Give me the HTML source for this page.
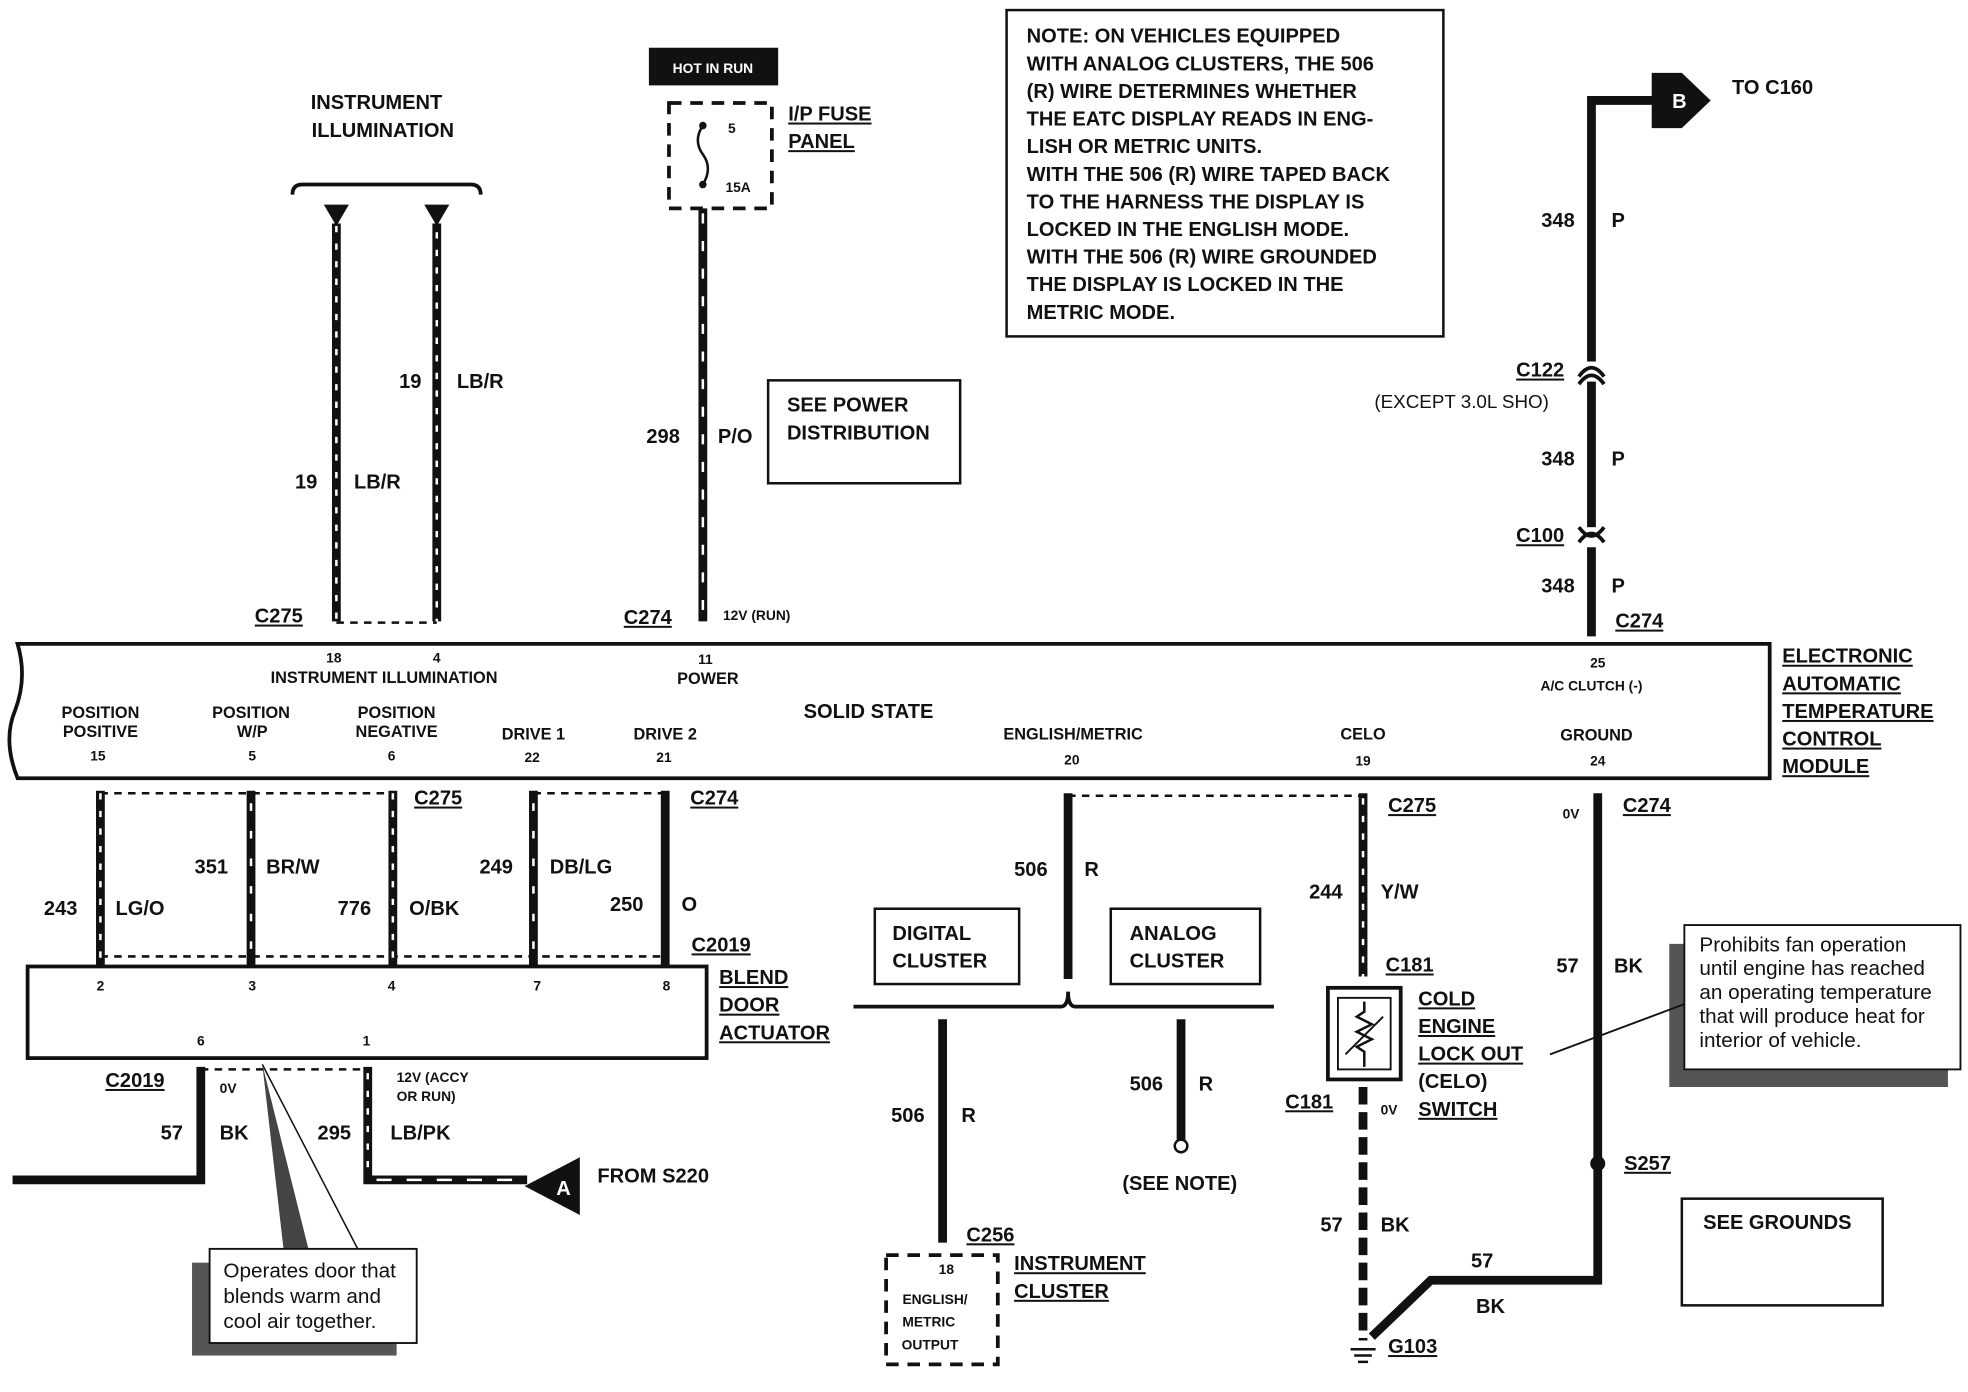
<!DOCTYPE html>
<html><head><meta charset="utf-8"><style>
html,body{margin:0;padding:0;background:#fff}
svg{display:block}
text{font-family:"Liberation Sans",sans-serif;font-weight:bold;fill:#111}
.s{font-size:16px}.m{font-size:13px}.t{font-size:11px}
.u{text-decoration:underline}
.w{stroke:#111;stroke-width:7;fill:none}
.st{stroke:#fff;stroke-width:2;stroke-dasharray:5 9;fill:none}
.d{stroke:#111;stroke-width:2;stroke-dasharray:6 5;fill:none}
.n{font-family:"Liberation Sans",sans-serif;font-weight:normal;font-size:16.5px}
</style></head><body>
<svg width="1968" height="1392" viewBox="0 0 1568 1109" xmlns="http://www.w3.org/2000/svg">
<rect width="1568" height="1109" fill="#fff"/>
<!-- Instrument illumination -->
<text class="s" x="300" y="87" text-anchor="middle">INSTRUMENT</text>
<text class="s" x="305" y="109" text-anchor="middle">ILLUMINATION</text>
<path d="M233 155 Q233 147 241 147 L375 147 Q383 147 383 155" stroke="#111" stroke-width="3" fill="none"/>
<polygon points="258,163 278,163 268,180" fill="#111"/><polygon points="338,163 358,163 348,180" fill="#111"/>
<line class="w" x1="268" y1="178" x2="268" y2="495"/><line class="st" x1="268" y1="180" x2="268" y2="495"/>
<line class="w" x1="348" y1="178" x2="348" y2="495"/><line class="st" x1="348" y1="185" x2="348" y2="495"/>
<line class="d" x1="268" y1="496" x2="348" y2="496"/>
<text class="s" x="235" y="389">19</text><text class="s" x="282" y="389">LB/R</text>
<text class="s" x="318" y="309">19</text><text class="s" x="364" y="309">LB/R</text>
<text class="s u" x="203" y="496">C275</text>
<!-- Hot in run -->
<rect x="517" y="38" width="103" height="30" fill="#111"/>
<text class="t" x="568" y="58" text-anchor="middle" style="fill:#fff">HOT IN RUN</text>
<rect x="533" y="82" width="82" height="84" fill="none" stroke="#111" stroke-width="3" stroke-dasharray="10 7"/>
<circle cx="560" cy="100" r="3" fill="#111"/><circle cx="560" cy="147" r="3" fill="#111"/>
<path d="M560 100 Q552 112 560 123 Q568 134 560 147" stroke="#111" stroke-width="2" fill="none"/>
<text class="t" x="580" y="106">5</text><text class="t" x="578" y="153">15A</text>
<text class="s u" x="628" y="96">I/P FUSE</text><text class="s u" x="628" y="118">PANEL</text>
<line class="w" x1="560" y1="166" x2="560" y2="495"/><line class="st" x1="560" y1="170" x2="560" y2="495" style="stroke-dasharray:8 14"/>
<text class="s" x="515" y="353">298</text><text class="s" x="572" y="353">P/O</text>
<text class="s u" x="497" y="497">C274</text><text class="t" x="576" y="494">12V (RUN)</text>
<rect x="612" y="303" width="153" height="82" fill="none" stroke="#111" stroke-width="2"/>
<text class="s" x="627" y="328">SEE POWER</text><text class="s" x="627" y="350">DISTRIBUTION</text>
<!-- Note -->
<rect x="802" y="8" width="348" height="260" fill="none" stroke="#111" stroke-width="2"/>
<g class="s"><text class="s" x="818" y="34">NOTE: ON VEHICLES EQUIPPED</text>
<text class="s" x="818" y="56">WITH ANALOG CLUSTERS, THE 506</text>
<text class="s" x="818" y="78">(R) WIRE DETERMINES WHETHER</text>
<text class="s" x="818" y="100">THE EATC DISPLAY READS IN ENG-</text>
<text class="s" x="818" y="122">LISH OR METRIC UNITS.</text>
<text class="s" x="818" y="144">WITH THE 506 (R) WIRE TAPED BACK</text>
<text class="s" x="818" y="166">TO THE HARNESS THE DISPLAY IS</text>
<text class="s" x="818" y="188">LOCKED IN THE ENGLISH MODE.</text>
<text class="s" x="818" y="210">WITH THE 506 (R) WIRE GROUNDED</text>
<text class="s" x="818" y="232">THE DISPLAY IS LOCKED IN THE</text>
<text class="s" x="818" y="254">METRIC MODE.</text></g>
<!-- Right top wire -->
<path class="w" d="M1268 507 L1268 80 L1320 80"/>
<polygon points="1316,58 1340,58 1363,80 1340,102 1316,102" fill="#111"/>
<text class="s" x="1338" y="86" text-anchor="middle" style="fill:#fff">B</text>
<text class="s" x="1380" y="75">TO C160</text>
<text class="s" x="1228" y="181">348</text><text class="s" x="1284" y="181">P</text>
<rect x="1262" y="288" width="12" height="16" fill="#fff"/><path d="M1258 300 Q1268 286 1278 300 M1258 306 Q1268 292 1278 306" stroke="#111" stroke-width="3" fill="none"/>
<text class="s u" x="1208" y="300">C122</text><text class="n" x="1095" y="325" style="font-size:15px">(EXCEPT 3.0L SHO)</text>
<text class="s" x="1228" y="371">348</text><text class="s" x="1284" y="371">P</text>
<rect x="1262" y="420" width="12" height="16" fill="#fff"/><path d="M1258 420 Q1268 434 1278 420 M1258 432 Q1268 418 1278 432" stroke="#111" stroke-width="3" fill="none"/>
<text class="s u" x="1208" y="432">C100</text>
<text class="s" x="1228" y="472">348</text><text class="s" x="1284" y="472">P</text>
<text class="s u" x="1287" y="500">C274</text>
<!-- Module -->
<path d="M14 513 L1410 513 L1410 620 L14 620 Q2 590 12 566 Q22 540 14 513 Z" fill="none" stroke="#111" stroke-width="3"/>
<text class="t" x="266" y="528" text-anchor="middle">18</text><text class="t" x="348" y="528" text-anchor="middle">4</text>
<text class="m" x="306" y="544" text-anchor="middle">INSTRUMENT ILLUMINATION</text>
<text class="t" x="562" y="529" text-anchor="middle">11</text><text class="m" x="564" y="545" text-anchor="middle">POWER</text>
<text class="t" x="1273" y="532" text-anchor="middle">25</text><text class="t" x="1268" y="550" text-anchor="middle">A/C CLUTCH (-)</text>
<text class="m" x="80" y="572" text-anchor="middle">POSITION</text><text class="m" x="80" y="587" text-anchor="middle">POSITIVE</text><text class="t" x="78" y="606" text-anchor="middle">15</text>
<text class="m" x="200" y="572" text-anchor="middle">POSITION</text><text class="m" x="201" y="587" text-anchor="middle">W/P</text><text class="t" x="201" y="606" text-anchor="middle">5</text>
<text class="m" x="316" y="572" text-anchor="middle">POSITION</text><text class="m" x="316" y="587" text-anchor="middle">NEGATIVE</text><text class="t" x="312" y="606" text-anchor="middle">6</text>
<text class="m" x="425" y="589" text-anchor="middle">DRIVE 1</text><text class="t" x="424" y="607" text-anchor="middle">22</text>
<text class="m" x="530" y="589" text-anchor="middle">DRIVE 2</text><text class="t" x="529" y="607" text-anchor="middle">21</text>
<text class="s" x="692" y="572" text-anchor="middle">SOLID STATE</text>
<text class="m" x="855" y="589" text-anchor="middle">ENGLISH/METRIC</text><text class="t" x="854" y="609" text-anchor="middle">20</text>
<text class="m" x="1086" y="589" text-anchor="middle">CELO</text><text class="t" x="1086" y="610" text-anchor="middle">19</text>
<text class="m" x="1272" y="590" text-anchor="middle">GROUND</text><text class="t" x="1273" y="610" text-anchor="middle">24</text>
<g><text class="s u" x="1420" y="528">ELECTRONIC</text><text class="s u" x="1420" y="550">AUTOMATIC</text><text class="s u" x="1420" y="572">TEMPERATURE</text><text class="s u" x="1420" y="594">CONTROL</text><text class="s u" x="1420" y="616">MODULE</text></g>
<!-- Blend door wires -->
<line class="d" x1="80" y1="632" x2="313" y2="632"/><line class="d" x1="425" y1="632" x2="530" y2="632"/>
<line class="d" x1="80" y1="762" x2="530" y2="762"/>
<line class="w" x1="80" y1="630" x2="80" y2="770"/><line class="st" x1="80" y1="632" x2="80" y2="770"/>
<line class="w" x1="200" y1="630" x2="200" y2="770"/><line class="st" x1="200" y1="640" x2="200" y2="770" style="stroke-dasharray:6 16"/>
<line class="w" x1="313" y1="630" x2="313" y2="770"/><line class="st" x1="313" y1="632" x2="313" y2="770"/>
<line class="w" x1="425" y1="630" x2="425" y2="770"/><line class="st" x1="425" y1="640" x2="425" y2="770" style="stroke-dasharray:6 16"/>
<line class="w" x1="530" y1="630" x2="530" y2="770"/>
<text class="s u" x="330" y="641">C275</text><text class="s u" x="550" y="641">C274</text>
<text class="s" x="35" y="729">243</text><text class="s" x="92" y="729">LG/O</text>
<text class="s" x="155" y="696">351</text><text class="s" x="212" y="696">BR/W</text>
<text class="s" x="269" y="729">776</text><text class="s" x="326" y="729">O/BK</text>
<text class="s" x="382" y="696">249</text><text class="s" x="438" y="696">DB/LG</text>
<text class="s" x="486" y="726">250</text><text class="s" x="543" y="726">O</text>
<text class="s u" x="551" y="758">C2019</text>
<rect x="22" y="770" width="541" height="73" fill="none" stroke="#111" stroke-width="3"/>
<text class="t" x="80" y="789" text-anchor="middle">2</text><text class="t" x="201" y="789" text-anchor="middle">3</text><text class="t" x="312" y="789" text-anchor="middle">4</text><text class="t" x="428" y="789" text-anchor="middle">7</text><text class="t" x="531" y="789" text-anchor="middle">8</text>
<text class="t" x="160" y="833" text-anchor="middle">6</text><text class="t" x="292" y="833" text-anchor="middle">1</text>
<text class="s u" x="573" y="784">BLEND</text><text class="s u" x="573" y="806">DOOR</text><text class="s u" x="573" y="828">ACTUATOR</text>
<line class="d" x1="160" y1="852" x2="293" y2="852"/>
<path class="w" d="M160 850 L160 940 L10 940"/>
<path class="w" d="M293 850 L293 940 L420 940"/><line class="st" x1="293" y1="855" x2="293" y2="935"/><line class="st" x1="300" y1="940" x2="420" y2="940" style="stroke-dasharray:12 12"/>
<polygon points="418,945 462,922 462,968" fill="#111"/><text class="s" x="449" y="952" text-anchor="middle" style="fill:#fff">A</text>
<text class="s" x="476" y="942">FROM S220</text>
<text class="s u" x="84" y="866">C2019</text><text class="t" x="175" y="871">0V</text>
<text class="t" x="316" y="862">12V (ACCY</text><text class="t" x="316" y="877">OR RUN)</text>
<text class="s" x="128" y="908">57</text><text class="s" x="175" y="908">BK</text>
<text class="s" x="253" y="908">295</text><text class="s" x="311" y="908">LB/PK</text>
<!-- left callout -->
<polygon points="209,848 226,996 246,996" fill="#444"/>
<rect x="153" y="1006" width="163" height="74" fill="#555"/>
<line x1="209" y1="848" x2="285" y2="995" stroke="#111" stroke-width="1.2"/>
<rect x="167" y="995" width="165" height="75" fill="#fff" stroke="#111" stroke-width="1.5"/>
<text class="n" x="178" y="1018">Operates door that</text><text class="n" x="178" y="1038">blends warm and</text><text class="n" x="178" y="1058">cool air together.</text>
<!-- English metric -->
<line class="d" x1="851" y1="634" x2="1086" y2="634"/>
<line class="w" x1="851" y1="632" x2="851" y2="780"/>
<text class="s" x="808" y="698">506</text><text class="s" x="864" y="698">R</text>
<path d="M680 802 L845 802 Q851 802 851 790 Q851 802 857 802 L1015 802" stroke="#111" stroke-width="3" fill="none"/>
<rect x="697" y="724" width="115" height="60" fill="none" stroke="#111" stroke-width="2"/>
<text class="s" x="711" y="749">DIGITAL</text><text class="s" x="711" y="771">CLUSTER</text>
<rect x="885" y="724" width="119" height="60" fill="none" stroke="#111" stroke-width="2"/>
<text class="s" x="900" y="749">ANALOG</text><text class="s" x="900" y="771">CLUSTER</text>
<line class="w" x1="751" y1="812" x2="751" y2="990"/>
<text class="s" x="710" y="894">506</text><text class="s" x="766" y="894">R</text>
<text class="s u" x="770" y="989">C256</text>
<rect x="706" y="1000" width="89" height="87" fill="none" stroke="#111" stroke-width="3" stroke-dasharray="10 7"/>
<text class="t" x="754" y="1015" text-anchor="middle">18</text>
<text class="t" x="745" y="1039" text-anchor="middle">ENGLISH/</text><text class="t" x="740" y="1057" text-anchor="middle">METRIC</text><text class="t" x="741" y="1075" text-anchor="middle">OUTPUT</text>
<text class="s u" x="808" y="1012">INSTRUMENT</text><text class="s u" x="808" y="1034">CLUSTER</text>
<line class="w" x1="941" y1="812" x2="941" y2="908"/><circle cx="941" cy="913" r="5" fill="#fff" stroke="#111" stroke-width="2"/>
<text class="s" x="900" y="869">506</text><text class="s" x="955" y="869">R</text>
<text class="s" x="940" y="948" text-anchor="middle">(SEE NOTE)</text>
<!-- CELO -->
<line class="w" x1="1086" y1="632" x2="1086" y2="778"/><line class="st" x1="1086" y1="636" x2="1086" y2="778"/>
<text class="s u" x="1106" y="647">C275</text>
<text class="s" x="1043" y="716">244</text><text class="s" x="1100" y="716">Y/W</text>
<text class="s u" x="1104" y="774">C181</text>
<rect x="1058" y="787" width="58" height="73" fill="none" stroke="#111" stroke-width="3"/>
<rect x="1066" y="795" width="42" height="57" fill="none" stroke="#111" stroke-width="1.5"/>
<path d="M1087 798 L1087 806 L1081 810 L1093 816 L1081 822 L1093 828 L1081 834 L1087 838 L1087 850" stroke="#111" stroke-width="2" fill="none"/>
<line x1="1072" y1="840" x2="1102" y2="810" stroke="#111" stroke-width="1.5"/>
<text class="s u" x="1130" y="801">COLD</text><text class="s u" x="1130" y="823">ENGINE</text><text class="s u" x="1130" y="845">LOCK OUT</text><text class="s" x="1130" y="867">(CELO)</text><text class="s u" x="1130" y="889">SWITCH</text>
<text class="s u" x="1024" y="883">C181</text><text class="t" x="1100" y="888">0V</text>
<line class="w" x1="1086" y1="866" x2="1086" y2="1068" style="stroke-dasharray:14 6"/>
<text class="s" x="1052" y="981">57</text><text class="s" x="1100" y="981">BK</text>
<path class="w" d="M1093 1065 L1140 1020 L1273 1020 L1273 632"/>
<path d="M1076 1075 L1096 1075 M1079 1080 L1093 1080 M1082 1085 L1090 1085" stroke="#111" stroke-width="2"/>
<text class="s u" x="1106" y="1078">G103</text>
<text class="s" x="1172" y="1010">57</text><text class="s" x="1176" y="1046">BK</text>
<circle cx="1273" cy="927" r="6" fill="#111"/><text class="s u" x="1294" y="932">S257</text>
<text class="t" x="1245" y="652">0V</text><text class="s u" x="1293" y="647">C274</text>
<text class="s" x="1240" y="775">57</text><text class="s" x="1286" y="775">BK</text>
<!-- right callout -->
<polygon points="1330,752 1342,752 1342,852 1552,852 1552,866 1330,866" fill="#555"/>
<line x1="1342" y1="800" x2="1235" y2="840" stroke="#111" stroke-width="1.5"/>
<rect x="1342" y="737" width="220" height="115" fill="#fff" stroke="#111" stroke-width="1.5"/>
<text class="n" x="1354" y="758">Prohibits fan  operation</text><text class="n" x="1354" y="777">until engine has reached</text><text class="n" x="1354" y="796">an operating temperature</text><text class="n" x="1354" y="815">that will produce heat for</text><text class="n" x="1354" y="834">interior of vehicle.</text>
<rect x="1340" y="955" width="160" height="85" fill="none" stroke="#111" stroke-width="2"/>
<text class="s" x="1357" y="979">SEE GROUNDS</text>
</svg>
</body></html>
